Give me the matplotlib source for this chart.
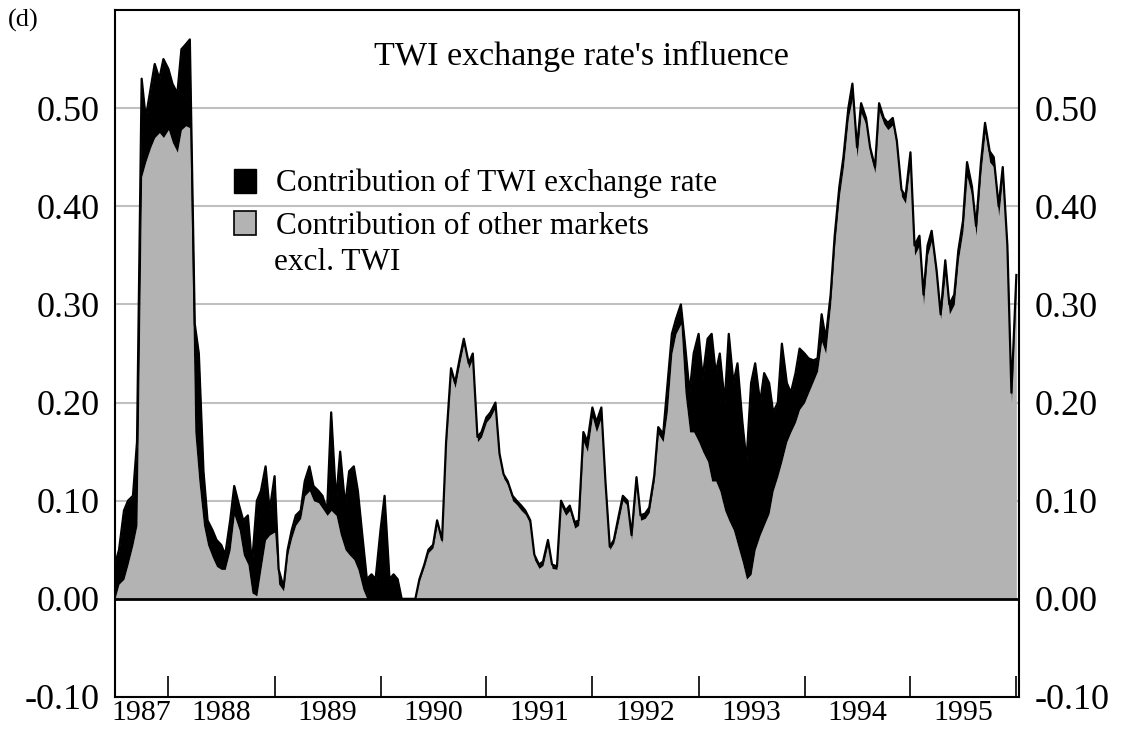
import numpy as np
import pandas as pd
import matplotlib
matplotlib.use('Agg')
import matplotlib.pyplot as plt
from matplotlib.patches import Patch

# semi-monthly readings, Jul 1987 - Jan 1996
total = [0.035, 0.05, 0.09, 0.10, 0.105, 0.16, 0.53, 0.49, 0.52, 0.545, 0.53, 0.55,
         0.54, 0.525, 0.515, 0.56, 0.565, 0.57, 0.28, 0.25, 0.13, 0.08, 0.07, 0.06,
         0.055, 0.045, 0.08, 0.115, 0.095, 0.08, 0.085, 0.035, 0.10, 0.11, 0.135, 0.09,
         0.125, 0.03, 0.012, 0.05, 0.07, 0.085, 0.09, 0.12, 0.135, 0.115, 0.11, 0.105,
         0.09, 0.19, 0.10, 0.15, 0.095, 0.13, 0.135, 0.11, 0.06, 0.02, 0.025, 0.02,
         0.07, 0.105, 0.02, 0.025, 0.02, 0.0, 0.0, 0.0, 0.0, 0.02, 0.035, 0.05,
         0.055, 0.08, 0.06, 0.16, 0.235, 0.22, 0.245, 0.265, 0.24, 0.25, 0.165, 0.17,
         0.185, 0.19, 0.20, 0.148, 0.127, 0.12, 0.105, 0.10, 0.095, 0.09, 0.08, 0.045,
         0.035, 0.038, 0.06, 0.035, 0.033, 0.10, 0.09, 0.095, 0.078, 0.08, 0.17, 0.16,
         0.195, 0.18, 0.195, 0.12, 0.053, 0.06, 0.085, 0.105, 0.10, 0.065, 0.124, 0.085,
         0.087, 0.093, 0.125, 0.175, 0.168, 0.215, 0.27, 0.285, 0.30, 0.26, 0.21, 0.25,
         0.27, 0.225, 0.265, 0.27, 0.23, 0.25, 0.20, 0.27, 0.22, 0.24, 0.18, 0.14,
         0.22, 0.24, 0.20, 0.23, 0.22, 0.19, 0.20, 0.26, 0.22, 0.21, 0.23, 0.255,
         0.25, 0.245, 0.243, 0.245, 0.29, 0.265, 0.31, 0.37, 0.42, 0.45, 0.50, 0.525,
         0.46, 0.505, 0.49, 0.46, 0.44, 0.505, 0.49, 0.485, 0.49, 0.467, 0.417, 0.41,
         0.455, 0.36, 0.37, 0.31, 0.36, 0.375, 0.335, 0.29, 0.345, 0.30, 0.31, 0.355,
         0.385, 0.445, 0.42, 0.38, 0.445, 0.485, 0.456, 0.45, 0.40, 0.44, 0.36, 0.21,
         0.33]
other = [0.0, 0.015, 0.02, 0.035, 0.055, 0.075, 0.43, 0.445, 0.46, 0.47, 0.475, 0.47,
         0.478, 0.465, 0.455, 0.478, 0.482, 0.48, 0.17, 0.12, 0.075, 0.055, 0.042, 0.033,
         0.03, 0.03, 0.05, 0.085, 0.07, 0.045, 0.035, 0.006, 0.003, 0.03, 0.06, 0.065,
         0.068, 0.015, 0.008, 0.045, 0.062, 0.075, 0.082, 0.105, 0.11, 0.10, 0.098, 0.092,
         0.085, 0.09, 0.085, 0.066, 0.05, 0.045, 0.04, 0.03, 0.01, 0.0, 0.0, 0.0,
         0.0, 0.0, 0.0, 0.0, 0.0, 0.0, 0.0, 0.0, 0.0, 0.018, 0.033, 0.047,
         0.052, 0.075, 0.057, 0.155, 0.23, 0.215, 0.24, 0.26, 0.235, 0.245, 0.16, 0.165,
         0.18, 0.185, 0.195, 0.143, 0.123, 0.116, 0.10, 0.096, 0.09, 0.086, 0.076, 0.04,
         0.031, 0.034, 0.056, 0.031, 0.03, 0.095, 0.085, 0.09, 0.072, 0.075, 0.16, 0.15,
         0.185, 0.17, 0.185, 0.115, 0.05, 0.057, 0.08, 0.10, 0.095, 0.06, 0.118, 0.08,
         0.082, 0.088, 0.12, 0.168, 0.16, 0.19, 0.25, 0.27, 0.28, 0.21, 0.17, 0.17,
         0.16, 0.15, 0.14, 0.12, 0.12, 0.11, 0.09, 0.08, 0.07, 0.055, 0.037, 0.02,
         0.025, 0.05, 0.065, 0.075, 0.087, 0.11, 0.125, 0.14, 0.16, 0.17, 0.18, 0.193,
         0.20, 0.21, 0.222, 0.232, 0.262, 0.25, 0.30, 0.36, 0.41, 0.44, 0.49, 0.51,
         0.45, 0.495, 0.483, 0.453, 0.434, 0.497, 0.484, 0.478, 0.483, 0.46, 0.41, 0.403,
         0.445, 0.35, 0.36, 0.30, 0.35, 0.365, 0.325, 0.285, 0.33, 0.29, 0.30, 0.345,
         0.375, 0.43, 0.41, 0.37, 0.435, 0.475, 0.445, 0.44, 0.39, 0.43, 0.35, 0.20,
         0.32]
dates = pd.date_range('1987-07-01', periods=len(total), freq='SMS')

y_ticks = [-0.10, 0.00, 0.10, 0.20, 0.30, 0.40, 0.50]
years = list(range(1987, 1996))

plt.rcParams['font.family'] = 'Liberation Serif'

fig = plt.figure(figsize=(11.36, 7.29), dpi=100)
ax = fig.add_axes([0.1012, 0.0439, 0.7958, 0.9424])

x0 = pd.Timestamp('1987-07-01')
x1 = pd.Timestamp('1996-01-10')

ax.fill_between(dates, 0, other, color='#b3b3b3', lw=0, zorder=2)
ax.fill_between(dates, other, total, color='black', lw=0, zorder=3)
ax.plot(dates, total, color='black', lw=1.6, zorder=4)
ax.axhline(0, color='black', lw=2, zorder=5)

ax.set_xlim(x0, x1)
ax.set_ylim(-0.1, 0.6)

ax.set_yticks(y_ticks)
ax.set_yticklabels(['%.2f' % v for v in y_ticks])
ax.yaxis.grid(True, color='#c0c0c0', lw=1.5)
ax.set_axisbelow(True)
ax.tick_params(axis='y', length=0, labelleft=True, labelright=True, pad=11, labelsize=26)

# year labels centred on the visible part of each year
centers = []
for y in years:
    a = max(x0, pd.Timestamp(f'{y}-01-01'))
    b = min(pd.Timestamp('1996-01-01'), pd.Timestamp(f'{y + 1}-01-01'))
    centers.append(a + (b - a) / 2)
ax.set_xticks(centers)
ax.set_xticklabels([str(y) for y in years])
ax.set_xticks([pd.Timestamp(f'{y}-01-01') for y in range(1988, 1997)], minor=True)
ax.tick_params(axis='x', which='major', length=0, pad=2, labelsize=21.5)
ax.tick_params(axis='x', which='minor', direction='in', length=15, width=1.2)

for s in ax.spines.values():
    s.set_linewidth(1.5)

ax.text(0.5155, 0.932, "TWI exchange rate's influence", transform=ax.transAxes,
        ha='center', va='center', fontsize=24.5)
fig.text(0.007, 0.972, '(d)', fontsize=19, va='center')

handles = [Patch(fc='black', ec='black'), Patch(fc='#b3b3b3', ec='black', lw=1.2)]
labels = ['Contribution of TWI exchange rate', 'Contribution of other markets']
ax.legend(handles, labels, loc='upper left', bbox_to_anchor=(0.1316, 0.769),
          frameon=False, fontsize=22.5, handlelength=0.7, handleheight=0.8,
          handletextpad=0.65, labelspacing=0.4, borderpad=0, borderaxespad=0)
ax.text(0.1759, 0.633, 'excl. TWI', transform=ax.transAxes, fontsize=22.5, va='center')

fig.savefig('out.png', dpi=100)
